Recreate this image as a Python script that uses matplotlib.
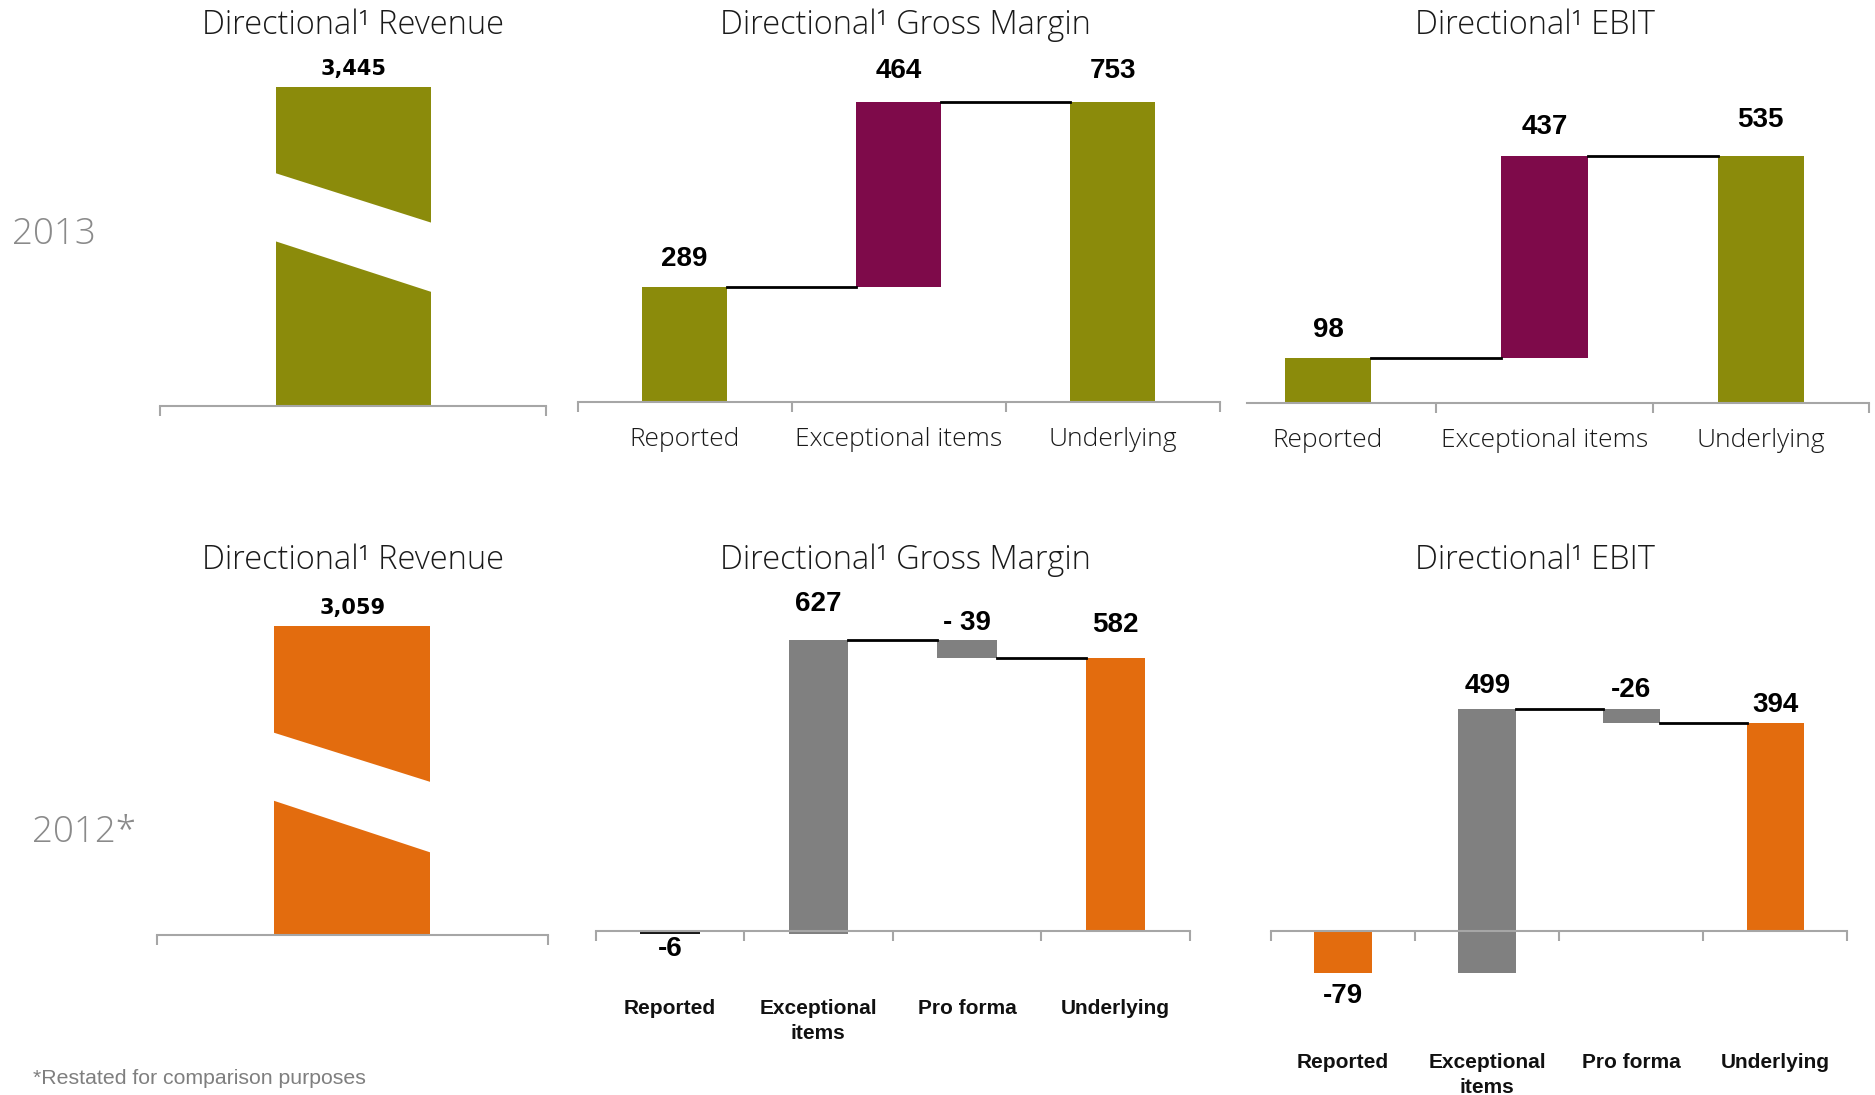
import numpy as np
import matplotlib
matplotlib.use("Agg")
import matplotlib.pyplot as plt
from matplotlib.patches import Polygon
from matplotlib.transforms import blended_transform_factory

OLIVE = "#8b8b0b"
PLUM = "#7e0a4a"
ORANGE = "#e36c0e"
GREY = "#808080"
AXIS_GREY = "#a6a6a6"
TEXT_GREY = "#8a8a8a"

# revenue (single broken bars)
revenue_2013 = 3445
revenue_2012 = 3059

# waterfall steps: reported, then adjustments; underlying is the running total
cats_2013 = ["Reported", "Exceptional items", "Underlying"]
cats_2012 = ["Reported", "Exceptional\nitems", "Pro forma", "Underlying"]
gm_2013 = [289, 464]
ebit_2013 = [98, 437]
gm_2012 = [-6, 627, -39]
ebit_2012 = [-79, 499, -26]
gm_2012_labels = ["-6", "627", "- 39", "582"]

W, H = 1568, 916


def rect(l, t, r, b):
    return [l / W, 1 - b / H, (r - l) / W, (b - t) / H]


def style_axis(ax, bounds, zero_spine=False):
    for s in ["top", "left", "right"]:
        ax.spines[s].set_visible(False)
    ax.spines["bottom"].set_color(AXIS_GREY)
    ax.spines["bottom"].set_linewidth(1.5)
    if zero_spine:
        # moving the spine resets the axis, so do it before ticks/labels
        ax.spines["bottom"].set_position(("data", 0))
    ax.set_yticks([])
    ax.set_xticks(bounds, minor=True)
    ax.tick_params(axis="x", which="minor", length=7, width=1.5, color=AXIS_GREY)
    ax.patch.set_alpha(0)


def revenue_panel(ax, value, color, ylim, brk):
    style_axis(ax, [-0.5, 0.5])
    ax.bar([0], [value], width=0.4, color=color)
    ax.set_xticks([])
    ax.set_xlim(-0.5, 0.5)
    ax.set_ylim(*ylim)
    # white slanted band = axis break
    tr = blended_transform_factory(ax.transData, ax.transAxes)
    top_l, top_r, bot_l, bot_r = brk
    e = 0.02
    k_top = (top_r - top_l) / 0.4
    k_bot = (bot_r - bot_l) / 0.4
    pts = [(-0.2 - e, top_l - k_top * e), (0.2 + e, top_r + k_top * e),
           (0.2 + e, bot_r + k_bot * e), (-0.2 - e, bot_l - k_bot * e)]
    ax.add_patch(Polygon(pts, closed=True, facecolor="white", edgecolor="none",
                         transform=tr, zorder=3))
    ax.annotate(f"{value:,}", (0, value), xytext=(0, 13), textcoords="offset points",
                ha="center", va="center", fontsize=15, fontweight="bold",
                family="DejaVu Sans")


def waterfall_panel(ax, steps, cats, colors, labels, offsets, conns, ylim, xlim,
                    bounds, tick_font, pad, zero_spine):
    style_axis(ax, bounds, zero_spine)
    running = np.cumsum(steps)
    heights = list(steps) + [running[-1]]
    bottoms = [0] + list(running[:-1]) + [0]
    x = np.arange(len(heights))
    ax.bar(x, heights, bottom=bottoms, width=0.4, color=colors, zorder=2)
    for i in conns:
        ax.plot([i + 0.2, i + 0.8], [running[i], running[i]], color="black", lw=2, zorder=3)
    for i, (h, b) in enumerate(zip(heights, bottoms)):
        if i == 0 and h < 0:
            y, dy = b + h, -offsets[i]
        else:
            y, dy = max(b, b + h), offsets[i]
        ax.annotate(labels[i], (i, y), xytext=(0, dy), textcoords="offset points",
                    ha="center", va="center", fontsize=20, fontweight="bold",
                    family="Liberation Sans")
    ax.set_xticks(x)
    ax.set_xticklabels(cats, **tick_font)
    ax.tick_params(axis="x", which="major", length=0, pad=pad)
    ax.set_xlim(*xlim)
    ax.set_ylim(*ylim)


fig = plt.figure(figsize=(18.75, 10.95), dpi=100)

title_font = dict(family="Open Sans", fontweight="light", fontsize=23.5, color="#1a1a1a",
                  ha="center", va="center")
for y in (21, 469):
    fig.text(295 / W, 1 - y / H, "Directional¹ Revenue", **title_font)
    fig.text(757 / W, 1 - y / H, "Directional¹ Gross Margin", **title_font)
    fig.text(1284 / W, 1 - y / H, "Directional¹ EBIT", **title_font)

fig.text(45 / W, 1 - 196 / H, "2013", family="Open Sans", fontweight="light", fontsize=26.5,
         color=TEXT_GREY, ha="center", va="center")
fig.text(70 / W, 1 - 696 / H, "2012*", family="Open Sans", fontweight="light", fontsize=26.5,
         color=TEXT_GREY, ha="center", va="center")
fig.text(28 / W, 1 - 902 / H, "*Restated for comparison purposes", family="Liberation Sans",
         fontsize=15.3, color="#7f7f7f", ha="left", va="center")

reg_font = dict(family="Open Sans", fontweight="light", fontsize=19, color="#1a1a1a")
bold_font = dict(family="Liberation Sans", fontsize=15, fontweight="bold", color="#111111",
                 linespacing=1.4)

# 2013 row
ax = fig.add_axes(rect(134, 40, 457, 340))
revenue_panel(ax, revenue_2013, OLIVE, (0, 3870), (0.65, 0.513, 0.46, 0.32))

ax = fig.add_axes(rect(483, 40, 1020, 336))
waterfall_panel(ax, gm_2013, cats_2013, [OLIVE, PLUM, OLIVE],
                [f"{v}" for v in gm_2013 + [sum(gm_2013)]], [20, 22, 22], [0, 1],
                (0, 888), (-0.5, 2.5), [-0.5, 0.5, 1.5, 2.5], reg_font, 18, False)

ax = fig.add_axes(rect(1043, 40, 1563, 337))
waterfall_panel(ax, ebit_2013, cats_2013, [OLIVE, PLUM, OLIVE],
                [f"{v}" for v in ebit_2013 + [sum(ebit_2013)]], [20, 21, 26], [0, 1],
                (0, 771), (-0.373, 2.5), [0.5, 1.5, 2.5], reg_font, 18, False)

# 2012 row
ax = fig.add_axes(rect(131, 490, 458, 782))
revenue_panel(ax, revenue_2012, ORANGE, (0, 3462), (0.579, 0.438, 0.384, 0.236))

ax = fig.add_axes(rect(498, 490, 995, 810))
waterfall_panel(ax, gm_2012, cats_2012, ["#1a1a1a", GREY, GREY, ORANGE],
                gm_2012_labels, [11, 26, 12, 24], [1, 2],
                (-79, 737), (-0.5, 3.5), [-0.5, 0.5, 1.5, 2.5, 3.5], bold_font, 49, True)

ax = fig.add_axes(rect(1063, 540, 1545, 850))
waterfall_panel(ax, ebit_2012, cats_2012, [ORANGE, GREY, GREY, ORANGE],
                [f"{v}" for v in ebit_2012 + [sum(ebit_2012)]], [17, 17, 14, 13], [1, 2],
                (-161, 541), (-0.5, 3.5), [-0.5, 0.5, 1.5, 2.5, 3.5], bold_font, 88, True)

fig.savefig("out.png", dpi=100)
